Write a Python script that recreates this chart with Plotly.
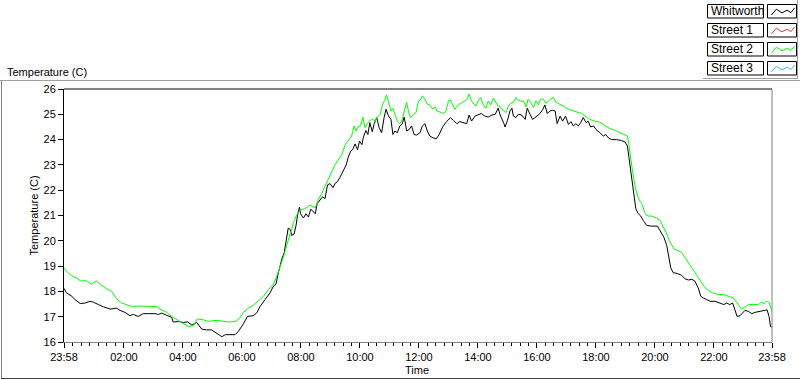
import plotly.graph_objects as go
import pandas as pd

# ---------------- data ----------------
series_names = ["Whitworth", "Street 1", "Street 2", "Street 3"]
series_colors = ["#000000", "#ff3333", "#00ff00", "#33bbff"]

start_time = "2000-01-01 23:58"

whitworth_min = [0, 5, 16, 22, 33, 43, 53, 60, 70, 80, 94, 107, 114, 124, 134, 141, 151, 161, 172, 185,
                 192, 199, 208, 219, 222, 233, 243, 251, 260, 270, 280, 290, 300, 311, 321, 328, 338, 348, 355,
                 365, 373, 385, 392, 399, 409, 419, 426, 431, 436, 443, 448, 452, 456, 460, 463, 468, 472, 475,
                 479, 481, 487, 492, 497, 502, 507, 511, 515, 521, 526, 531, 536, 541, 547, 551, 556, 561, 567,
                 574, 578, 583, 587, 592, 597, 601, 606, 609, 614, 618, 622, 627, 631, 636, 641, 646, 651, 655,
                 660, 665, 669, 673, 678, 683, 688, 692, 697, 702, 707, 712, 717, 724,
                 729, 734, 739, 744, 751, 757, 763, 770, 778, 786, 792, 799, 805, 814, 819, 824, 829, 836, 843,
                 849, 856, 863, 870, 877, 883, 888, 894, 897, 902, 907, 911, 914, 919, 924, 931, 938, 942, 948,
                 953, 958, 963, 968, 974, 978, 983, 988, 994, 999, 1003, 1009, 1014, 1020, 1026, 1031, 1036,
                 1041, 1046, 1051, 1056, 1062, 1066, 1071, 1077, 1082, 1090,
                 1097, 1102, 1107, 1114, 1124, 1134, 1141, 1146, 1150, 1153, 1156, 1159, 1163, 1168, 1173, 1178,
                 1185, 1195, 1207, 1212, 1220, 1226, 1230, 1234, 1239, 1247, 1256, 1263, 1270, 1277, 1283, 1290,
                 1295, 1300, 1307, 1314, 1324, 1334, 1342, 1348, 1354, 1360, 1365, 1369, 1375, 1380, 1385, 1392,
                 1399, 1405, 1415, 1426, 1430, 1434, 1437, 1440]
whitworth_temp = [18.12, 17.94, 17.81, 17.68, 17.52, 17.54, 17.61, 17.57, 17.48, 17.39, 17.30, 17.34, 17.25, 17.17,
                  17.04, 17.09, 17.01, 17.12, 17.12, 17.12, 17.09, 17.14, 17.06, 16.98, 16.79, 16.81, 16.77, 16.80,
                  16.67, 16.77, 16.51, 16.48, 16.48, 16.35, 16.21, 16.29, 16.29, 16.29, 16.43,
                  16.72, 17.01, 17.04, 17.15, 17.41, 17.68, 17.94, 18.21, 18.28, 18.74, 19.28, 19.54, 20.07, 20.50,
                  20.45, 20.21, 20.27, 20.61, 21.01, 21.33, 21.07, 20.90, 21.07, 20.94, 21.25, 21.17, 21.07, 21.47,
                  21.61, 21.74, 21.67, 22.21, 22.26, 22.10, 22.26, 22.34, 22.50, 22.74, 23.00, 23.30, 23.54, 23.60,
                  23.83, 23.60, 23.94, 23.80, 24.10, 24.36, 24.20, 24.67, 24.31, 24.63, 24.87, 24.47, 24.27, 24.87,
                  25.20, 24.93, 24.80, 24.20, 24.34, 24.27, 24.54, 24.63, 24.89, 24.34, 24.40, 24.54, 24.20, 24.18,
                  24.27,
                  24.54, 24.63, 24.34, 24.14, 24.07, 24.03, 24.20, 24.50, 24.71, 24.87, 24.76, 24.63, 24.71, 24.67,
                  24.63, 24.97, 24.73, 24.93, 24.97, 25.03, 24.93, 24.89, 24.97, 25.00, 25.24, 24.93, 24.67, 24.50,
                  24.76, 25.13, 25.24, 24.93, 24.87, 25.00, 24.97, 24.80, 25.24, 25.03, 24.80, 24.87, 24.97, 25.03,
                  25.20, 25.37, 25.03, 25.13, 25.16, 25.13, 24.63, 24.93, 24.73, 24.93, 24.60, 24.71, 24.54, 24.63,
                  24.54, 24.67, 24.87, 24.67, 24.73, 24.50, 24.54, 24.40, 24.27,
                  24.14, 24.20, 24.07, 24.00, 24.00, 23.96, 23.91, 23.74, 23.14, 22.74, 22.21, 21.67, 21.27, 21.07,
                  20.98, 20.81, 20.61, 20.58, 20.58, 20.41, 20.14, 19.81, 19.41, 18.94, 18.74, 18.71, 18.64, 18.50,
                  18.45, 18.48, 18.41, 18.14, 17.81, 17.74, 17.68, 17.61, 17.61, 17.54, 17.48, 17.54, 17.48, 17.54,
                  17.27, 17.01, 17.04, 17.15, 17.25, 17.21, 17.12, 17.17, 17.21, 17.25, 17.27, 17.01, 16.61, 16.59]

street2_min = [0, 5, 16, 26, 33, 46, 56, 66, 77, 87, 97, 107, 117, 128, 138, 151, 168, 189, 195, 209, 219, 229,
               239, 253, 263, 271, 283, 294, 304, 314, 324, 334, 348, 357,
               365, 375, 385, 395, 406, 416, 426, 433, 439, 446, 453, 460, 467, 473, 480, 490, 500, 511, 517, 524,
               531, 538, 545, 551, 558, 565, 572, 578, 585, 590, 594, 599, 603, 608, 612, 617, 622, 628, 633, 637,
               643, 648, 652, 656, 660, 665, 669, 673, 678, 683, 688, 692, 697, 701, 705, 711, 716, 721, 724,
               729, 734, 739, 744, 750, 755, 759, 765, 772, 777, 782, 786, 790, 795, 802, 809, 816, 820, 824, 829,
               834, 838, 843, 847, 853, 858, 863, 868, 873, 879, 883, 888, 894, 899, 904, 908, 914, 919, 924, 929,
               934, 940, 944, 949, 955, 960, 965, 969, 975, 980, 985, 990, 995, 1001, 1005, 1012, 1019, 1026, 1033,
               1039, 1046, 1053, 1060, 1066, 1073, 1080, 1090,
               1097, 1104, 1110, 1121, 1131, 1141, 1146, 1150, 1152, 1156, 1161, 1165, 1170, 1175, 1182, 1188,
               1195, 1205, 1212, 1219, 1226, 1232, 1241, 1249, 1256, 1263, 1270, 1277, 1283, 1290, 1297, 1304,
               1310, 1321, 1331, 1341, 1351, 1361, 1368, 1373, 1378, 1385, 1392, 1402, 1412, 1419, 1424, 1429,
               1434, 1437, 1440]
street2_temp = [18.94, 18.80, 18.61, 18.53, 18.42, 18.42, 18.28, 18.41, 18.24, 18.10, 18.00, 17.70, 17.54, 17.46,
                17.41, 17.42, 17.40, 17.40, 17.30, 17.17, 17.01, 16.88, 16.77, 16.61, 16.64, 16.91, 16.88, 16.81,
                16.85, 16.85, 16.81, 16.79, 16.81, 16.93,
                17.17, 17.34, 17.45, 17.61, 17.81, 18.08, 18.28, 18.61, 18.94, 19.34, 19.81, 20.27, 20.74, 21.01,
                21.21, 21.27, 21.41, 21.30, 21.61, 21.87, 22.17, 22.47, 22.76, 23.00, 23.20, 23.40, 23.80, 23.96,
                24.14, 24.54, 24.34, 24.54, 24.54, 24.89, 24.47, 24.63, 24.76, 24.80, 24.73, 24.87, 25.00, 25.40,
                25.53, 25.77, 25.47, 25.13, 25.23, 25.00, 24.73, 24.63, 24.80, 25.13, 25.47, 25.07, 24.87, 25.00,
                25.07, 25.53, 25.55,
                25.73, 25.60, 25.40, 25.37, 25.20, 25.29, 25.13, 25.07, 25.03, 25.13, 25.53, 25.56, 25.40, 25.20,
                25.37, 25.47, 25.53, 25.60, 25.80, 25.53, 25.40, 25.33, 25.56, 25.67, 25.37, 25.24, 25.53, 25.37,
                25.64, 25.47, 25.33, 25.29, 25.13, 25.07, 25.33, 25.43, 25.47, 25.67, 25.56, 25.51, 25.53, 25.29,
                25.60, 25.47, 25.27, 25.53, 25.37, 25.60, 25.60, 25.43, 25.53, 25.60, 25.67, 25.47, 25.43, 25.37,
                25.29, 25.20, 25.16, 25.11, 25.07, 25.03, 24.93, 24.84, 24.76, 24.73, 24.69,
                24.60, 24.50, 24.44, 24.36, 24.27, 24.20, 24.14, 23.67, 23.34, 22.80, 22.21, 21.87, 21.61, 21.47,
                21.07, 20.98, 20.98, 20.90, 20.81, 20.54, 20.27, 19.97, 19.67, 19.61, 19.54, 19.34, 19.14, 18.94,
                18.74, 18.58, 18.34, 18.14, 18.05, 17.92, 17.88, 17.88, 17.81, 17.74, 17.57, 17.44, 17.30, 17.38,
                17.48, 17.48, 17.48, 17.57, 17.52, 17.61, 17.57, 17.38, 17.21]

x_tick_times = ["2000-01-01 23:58", "2000-01-02 02:00", "2000-01-02 04:00", "2000-01-02 06:00",
                "2000-01-02 08:00", "2000-01-02 10:00", "2000-01-02 12:00", "2000-01-02 14:00",
                "2000-01-02 16:00", "2000-01-02 18:00", "2000-01-02 20:00", "2000-01-02 22:00",
                "2000-01-02 23:58"]
x_tick_labels = ["23:58", "02:00", "04:00", "06:00", "08:00", "10:00", "12:00", "14:00",
                 "16:00", "18:00", "20:00", "22:00", "23:58"]
y_ticks = [16, 17, 18, 19, 20, 21, 22, 23, 24, 25, 26]

# ---------------- layout geometry (pixels) ----------------
W, H = 800, 380
L, R, T, B = 64, 772, 89, 342
FONT = "Liberation Sans, Arial, sans-serif"


def fx(x):
    return (x - L) / (R - L)


def fy(y):
    return (B - y) / (B - T)


t0 = pd.Timestamp(start_time)
wx = t0 + pd.to_timedelta(whitworth_min, unit="min")
sx = t0 + pd.to_timedelta(street2_min, unit="min")

tick_ts = pd.to_datetime(x_tick_times)
minor_vals = []
for a, b in zip(tick_ts[:-1], tick_ts[1:]):
    step = (b - a) / 7
    for k in range(1, 7):
        minor_vals.append(a + step * k)

fig = go.Figure()
fig.add_trace(go.Scatter(x=wx, y=whitworth_temp, mode="lines", name=series_names[0],
                         line=dict(color=series_colors[0], width=1), showlegend=False))
fig.add_trace(go.Scatter(x=sx, y=street2_temp, mode="lines", name=series_names[2],
                         line=dict(color=series_colors[2], width=1), showlegend=False))

fig.update_layout(
    width=W, height=H,
    margin=dict(l=L, r=W - R, t=T, b=H - B, pad=0),
    paper_bgcolor="white", plot_bgcolor="white",
    font=dict(family=FONT, size=11, color="black"),
    showlegend=False,
)
fig.update_xaxes(
    type="date", range=[tick_ts[0], tick_ts[-1]],
    tickmode="array", tickvals=list(tick_ts), ticktext=x_tick_labels,
    ticks="outside", ticklen=5, tickcolor="black", tickwidth=1,
    showgrid=False, zeroline=False,
    showline=True, linecolor="#808080", linewidth=1,
    minor=dict(tickmode="array", tickvals=minor_vals, ticks="outside", ticklen=3,
               tickcolor="black", tickwidth=1, showgrid=False),
    tickfont=dict(family=FONT, size=11, color="black"),
)
fig.update_yaxes(
    range=[16, 26], tickmode="array", tickvals=y_ticks,
    ticks="outside", ticklen=5, tickcolor="black", tickwidth=1,
    showgrid=False, zeroline=False,
    showline=True, linecolor="black", linewidth=1,
    tickfont=dict(family=FONT, size=11, color="black"),
)

shapes = []
# plot frame: top black, right gray
shapes.append(dict(type="line", xref="paper", yref="paper", x0=0, x1=1, y0=1, y1=1,
                   line=dict(color="black", width=1)))
shapes.append(dict(type="line", xref="paper", yref="paper", x0=1, x1=1, y0=0, y1=1,
                   line=dict(color="#808080", width=1)))
# outer panel
shapes.append(dict(type="line", xref="paper", yref="paper", x0=fx(0), x1=fx(800), y0=fy(80.5), y1=fy(80.5),
                   line=dict(color="#a0a0a0", width=1)))
shapes.append(dict(type="line", xref="paper", yref="paper", x0=fx(1.5), x1=fx(1.5), y0=fy(80.5), y1=fy(379),
                   line=dict(color="#808080", width=1)))
shapes.append(dict(type="line", xref="paper", yref="paper", x0=fx(1), x1=fx(800), y0=fy(378.5), y1=fy(378.5),
                   line=dict(color="#404040", width=1)))
# legend panel border
shapes.append(dict(type="line", xref="paper", yref="paper", x0=fx(703), x1=fx(797.5), y0=fy(78.5), y1=fy(78.5),
                   line=dict(color="#a0a0a0", width=1)))
shapes.append(dict(type="line", xref="paper", yref="paper", x0=fx(797.5), x1=fx(797.5), y0=fy(0), y1=fy(78.5),
                   line=dict(color="#a0a0a0", width=1)))

annotations = []
# legend entries
zig = [(0.12, 0.78), (0.3, 0.35), (0.5, 0.62), (0.68, 0.42), (0.82, 0.6), (0.95, 0.25)]
for i, (name, col) in enumerate(zip(series_names, series_colors)):
    top = 4.5 + 19 * i
    bot = top + 13.5
    shapes.append(dict(type="rect", xref="paper", yref="paper", x0=fx(707.5), x1=fx(763.5),
                       y0=fy(bot), y1=fy(top), line=dict(color="black", width=1), fillcolor="white",
                       layer="below"))
    shapes.append(dict(type="rect", xref="paper", yref="paper", x0=fx(767.5), x1=fx(796.5),
                       y0=fy(bot), y1=fy(top), line=dict(color="black", width=1), fillcolor="white",
                       layer="below"))
    path = ""
    for j, (u, v) in enumerate(zig):
        px_ = fx(768 + u * 28)
        py_ = fy(top + v * 13.5)
        path += ("M" if j == 0 else "L") + f"{px_},{py_} "
    shapes.append(dict(type="path", xref="paper", yref="paper", path=path.strip(),
                       line=dict(color=col, width=1)))
    annotations.append(dict(text=name, xref="paper", yref="paper", x=fx(709), y=fy((top + bot) / 2),
                            xanchor="left", yanchor="middle", showarrow=False,
                            font=dict(family=FONT, size=12, color="black")))

annotations.append(dict(text="Temperature (C)", xref="paper", yref="paper", x=fx(5), y=fy(72),
                        xanchor="left", yanchor="middle", showarrow=False,
                        font=dict(family=FONT, size=11, color="black")))
annotations.append(dict(text="Temperature (C)", xref="paper", yref="paper", x=fx(33), y=fy(215.5),
                        xanchor="center", yanchor="middle", textangle=-90, showarrow=False,
                        font=dict(family=FONT, size=11, color="black")))
annotations.append(dict(text="Time", xref="paper", yref="paper", x=fx(417), y=fy(370),
                        xanchor="center", yanchor="middle", showarrow=False,
                        font=dict(family=FONT, size=11, color="black")))

fig.update_layout(shapes=shapes, annotations=annotations)
fig.write_html("out.html",
               config={"displayModeBar": False},
               post_script="document.body.style.margin='0';document.body.style.padding='0';"
                           "document.documentElement.style.overflow='hidden';")
